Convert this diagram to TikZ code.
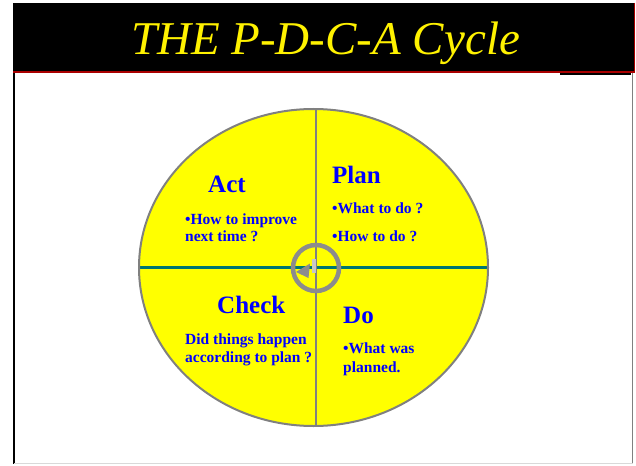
\documentclass[tikz,border=0pt]{standalone}
\usepackage{fontspec}
\setmainfont{Liberation Serif}
\definecolor{txtblue}{RGB}{0,0,255}
\definecolor{cycyellow}{RGB}{255,255,0}
\definecolor{rimgray}{RGB}{128,128,128}
\definecolor{hubgray}{RGB}{140,140,140}
\definecolor{axisteal}{RGB}{0,118,112}
\definecolor{barred}{RGB}{170,0,0}
\tikzset{
  heading/.style={anchor=base west,inner sep=0pt,text=txtblue,font=\bfseries\fontsize{25}{30}\selectfont},
  bodyline/.style={anchor=base west,inner sep=0pt,text=txtblue,font=\bfseries\fontsize{15.5}{18}\selectfont},
  titletext/.style={anchor=base,inner sep=0pt,text=yellow,font=\itshape\fontsize{47}{50}\selectfont}
}
\begin{document}
\begin{tikzpicture}[x=1pt,y=-1pt]
\useasboundingbox (0,0) rectangle (636,465);
% frame
\fill[black] (13,3) rectangle (635,72);
\draw[barred,line width=1.2] (634.4,3) -- (634.4,72);
\draw[barred,line width=1.4] (13,72) -- (635,72);
\fill[black] (560,72.7) rectangle (631,75);
\draw[black,line width=2.2] (14,72.7) -- (14,463.5);
\draw[rimgray,line width=1.5] (632.5,72.7) -- (632.5,463.5);
\draw[black!15,line width=1.2] (14,463.8) -- (632.5,463.8);
\node[titletext] (title) at (325.5,55) {THE P-D-C-A Cycle};
% cycle
\coordinate (c) at (313.5,267.5);
\coordinate (top) at (316,109);
\coordinate (bot) at (316,426);
\coordinate (lft) at (139,267);
\coordinate (rgt) at (488,267);
\coordinate (hub) at (316,268);
\fill[cycyellow] (c) ellipse [x radius=174.5,y radius=158.5];
\draw[axisteal,line width=3] (lft) -- (rgt);
\draw[rimgray,line width=2.5] (top) -- (bot);
\draw[rimgray,line width=2] (c) ellipse [x radius=174.5,y radius=158.5];
\draw[hubgray,line width=4.5] (hub) circle [radius=23];
\fill[hubgray] (296,272) -- (310,263.5) -- (308.5,278) -- cycle;
\fill[black!22] (312,259) rectangle (315.5,273);
% texts
\node[heading] (act) at (208,192) {Act};
\node[bodyline] (act1) at (185,224) {•How to improve};
\node[bodyline] (act2) at (185,241) {next time ?};
\node[heading] (plan) at (332,183) {Plan};
\node[bodyline] (plan1) at (332,213) {•What to do ?};
\node[bodyline] (plan2) at (332,241) {•How to do ?};
\node[heading] (check) at (217,313) {Check};
\node[bodyline] (check1) at (185,344) {Did things happen};
\node[bodyline] (check2) at (185,362) {according to plan ?};
\node[heading] (do) at (343,323) {Do};
\node[bodyline] (do1) at (343,353) {•What was};
\node[bodyline] (do2) at (343,372) {planned.};
\end{tikzpicture}
\end{document}
